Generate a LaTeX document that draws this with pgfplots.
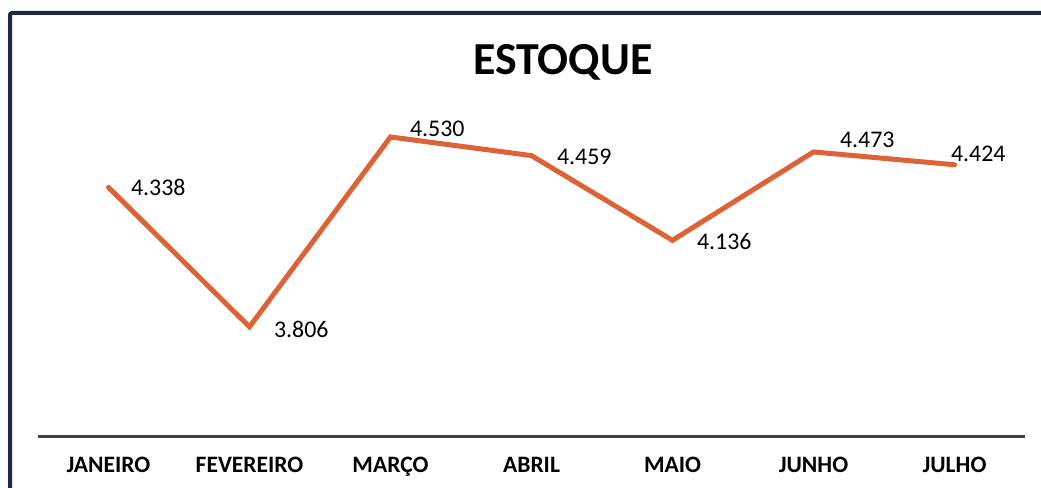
\documentclass[border=0pt]{standalone}
\usepackage{pgfplots}
\pgfplotsset{compat=1.18}
\usepackage{fontspec}
\setmainfont{Carlito}
\definecolor{lineorange}{HTML}{DD6236}
\definecolor{frame}{HTML}{1C2B40}
\definecolor{axisgray}{HTML}{404040}

\pgfplotstableread{
x  y     dx    dy
0  4338  10    0
1  3806  11    -1.5
2  4530  8.5   4
3  4459  11.5  -0.5
4  4136  11    -0.5
5  4473  12    6
6  4424  -3    5.5
}\estoque

\begin{document}
\begin{tikzpicture}
\path[use as bounding box] (0,0) rectangle (520.5bp,244bp);
% frame, left and top
\draw[frame, line width=2bp, rounded corners=1bp] (5bp,-2bp) -- (5bp,237.5bp) -- (524bp,237.5bp);
\node[font=\bfseries\fontsize{23}{27}\selectfont] at (281.5bp,213bp) {ESTOQUE};
\begin{axis}[
  at={(19bp,26bp)}, anchor=south west,
  scale only axis, width=493.5bp, height=168bp,
  xmin=-0.5, xmax=6.5, ymin=3390, ymax=4671,
  hide y axis,
  axis x line=bottom,
  x axis line style={-, axisgray, line width=1.5bp},
  major tick length=0pt,
  xtick=data,
  xticklabels={JANEIRO, FEVEREIRO, MARÇO, ABRIL, MAIO, JUNHO, JULHO},
  xticklabel style={font=\bfseries\fontsize{11.8}{14}\selectfont, anchor=base, yshift=-18bp},
  clip=false,
]
\addplot[lineorange, line width=2.5bp, line cap=round,
  visualization depends on={\thisrow{dx} \as \dx},
  visualization depends on={\thisrow{dy} \as \dy},
  nodes near coords={\pgfmathprintnumber[1000 sep={.}, assume math mode=true]{\pgfplotspointmeta}},
  every node near coord/.append style={black, anchor=west, xshift=\dx*1bp, yshift=\dy*1bp, font=\fontsize{12}{14}\selectfont, inner sep=0pt},
] table[x=x, y=y] {\estoque};
\end{axis}
\end{tikzpicture}
\end{document}
